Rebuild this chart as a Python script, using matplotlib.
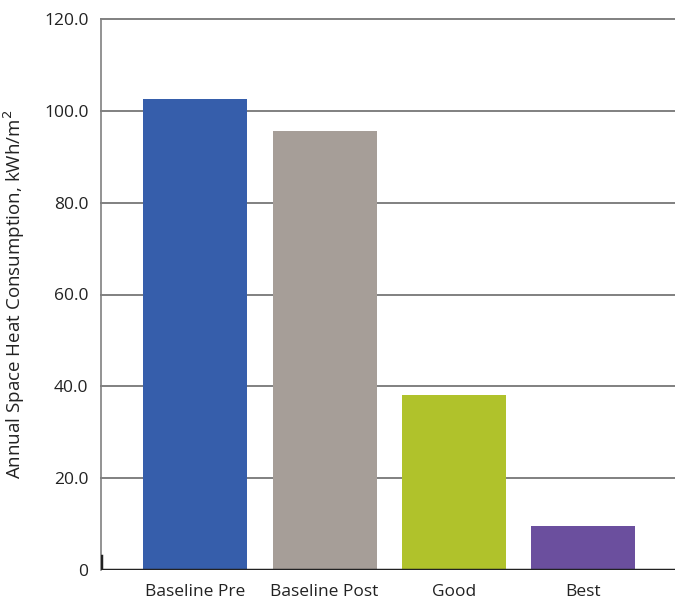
import matplotlib.pyplot as plt

categories = ['Baseline Pre', 'Baseline Post', 'Good', 'Best']
values = [102.6, 95.6, 38.1, 9.6]
colors = ['#365EAB', '#A69E98', '#B0C22B', '#6B4F9E']
yticks = [0, 20, 40, 60, 80, 100, 120]
ylabels = ['0', '20.0', '40.0', '60.0', '80.0', '100.0', '120.0']

plt.rcParams['font.family'] = ['Open Sans', 'DejaVu Sans']

fig = plt.figure(figsize=(6.75, 6.02), dpi=100)
ax = fig.add_axes([101/675, 1 - 570/602, 1 - 101/675, 551/602])

index = range(len(categories))
ax.bar(index, values, width=0.804, color=colors, zorder=3)

ax.set_xlim(-0.73, 3.71)
ax.set_ylim(0, 120)
ax.set_yticks(yticks)
ax.set_yticklabels(ylabels, fontsize=12.5, color='#222222')
ax.set_xticks(list(index))
ax.set_xticklabels(categories, fontsize=12.5, color='#222222')
ax.tick_params(axis='both', length=0)
ax.tick_params(axis='y', pad=9)
ax.tick_params(axis='x', pad=10)

for t in yticks[1:]:
    ax.axhline(t, color='#808080', linewidth=1.4, zorder=1, clip_on=False)
ax.axhline(0, color='#222222', linewidth=2.5, zorder=4)
ax.axvline(-0.73, ymax=0.025, color='#222222', linewidth=2.5, zorder=4)

for s in ['top', 'right', 'bottom']:
    ax.spines[s].set_visible(False)
ax.spines['left'].set_color('#808080')
ax.spines['left'].set_linewidth(1.2)

ax.set_ylabel('Annual Space Heat Consumption, kWh/m$^2$', fontsize=13.5, color='#222222', labelpad=12)

plt.savefig('out.png', dpi=100)
